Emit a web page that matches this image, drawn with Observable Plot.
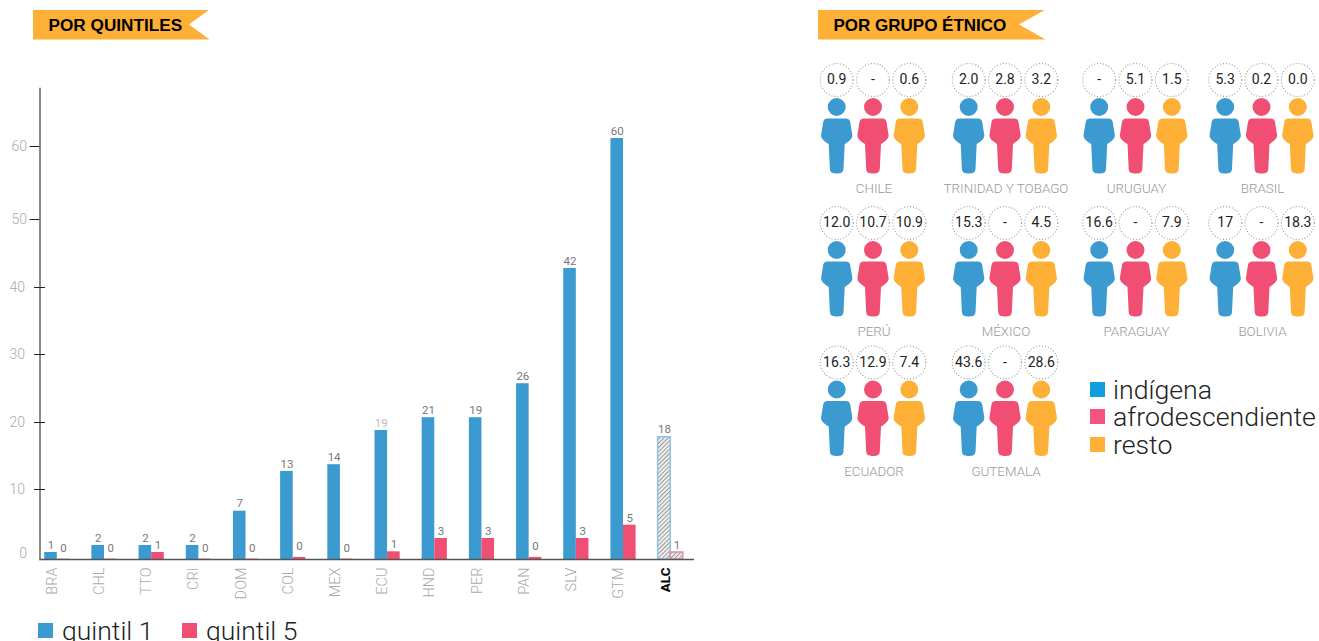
<!DOCTYPE html>
<html><head><meta charset="utf-8">
<script src="https://cdn.jsdelivr.net/npm/d3@7"></script>
<script src="https://cdn.jsdelivr.net/npm/@observablehq/plot@0.6"></script>
<style>
html,body{margin:0;padding:0;background:#fff;overflow:hidden;width:1319px;height:641px;font-family:Roboto,sans-serif}
#bars,#people{position:absolute;top:0}
#bars{left:0}
#people{left:800px}
.ribbon{position:absolute;top:9.5px;height:30px;background:#fdb035;font:bold 17.2px/31px "Liberation Sans",Arial,sans-serif;color:#000;box-sizing:border-box;padding-left:15.5px;white-space:nowrap}
.lg{position:absolute;font-family:Roboto;font-weight:300;color:#222;white-space:nowrap}
</style></head><body>
<div id="bars"></div>
<div id="people"></div>
<div class="ribbon" id="r1" style="left:33px;width:176.5px;clip-path:polygon(0 0,100% 0,156px 50%,100% 100%,0 100%)">POR QUINTILES</div>
<div class="ribbon" id="r2" style="left:818px;width:227.5px;font-size:17px;clip-path:polygon(0 0,100% 0,201px 50%,100% 100%,0 100%)">POR GRUPO ÉTNICO</div>
<div id="lg1"></div><div id="lg2"></div>
<script>
const BLUE = "#3b9ad0", RED = "#f04e73", ORANGE = "#fdb035";

const codes = ["BRA","CHL","TTO","CRI","DOM","COL","MEX","ECU","HND","PER","PAN","SLV","GTM","ALC"];
const quintil1 = [1,2,2,2,6.9,12.7,13.7,18.8,20.7,20.7,25.7,42.8,61.1,17.8];
const quintil5 = [0.05,0.05,1,0.05,0.05,0.3,0.05,1.1,3,3,0.3,3,4.9,1];
const labels1 = ["1","2","2","2","7","13","14","19","21","19","26","42","60","18"];
const labels5 = ["0","0","1","0","0","0","0","1","3","3","0","3","5","1"];

const countries = ["CHILE","TRINIDAD Y TOBAGO","URUGUAY","BRASIL","PERÚ","MÉXICO","PARAGUAY","BOLIVIA","ECUADOR","GUTEMALA"];
const indigena = ["0.9","2.0","-","5.3","12.0","15.3","16.6","17","16.3","43.6"];
const afro = ["-","2.8","5.1","0.2","10.7","-","-","-","12.9","-"];
const resto = ["0.6","3.2","1.5","0.0","10.9","4.5","7.9","18.3","7.4","28.6"];

const rows = codes.map((c,i)=>({c,q1:quintil1[i],q5:quintil5[i],l1:labels1[i],l5:labels5[i]}));
const main = rows.filter(d=>d.c!=="ALC"), alc = rows.filter(d=>d.c==="ALC");
const barW = {insetLeft:17.3,insetRight:17.3};
const lab = {fontFamily:"Roboto",fontSize:11.5,fill:"#777",lineAnchor:"middle"};
const tickText = {fill:"#aaa",fontSize:14,fontWeight:300,label:null};

const defs = () => {
  const s = d3.create("svg:defs");
  const p = s.append("pattern").attr("id","hatch").attr("width",3).attr("height",3)
    .attr("patternUnits","userSpaceOnUse").attr("patternTransform","rotate(-45)");
  p.append("rect").attr("width",3).attr("height",3).attr("fill","#f4f4f4");
  p.append("rect").attr("width",3).attr("height",1.1).attr("fill","#9a9a9a");
  return s.node();
};

const barPlot = Plot.plot({
  width:720,height:641,marginLeft:39.5,marginRight:26,marginTop:88,marginBottom:82,
  style:{background:"transparent",fontFamily:"Roboto"},
  x:{type:"band",domain:codes,range:[33.2,693.8],padding:0,round:false,axis:null},
  y:{type:"linear",domain:[0,10,20,30,40,50,60,68],range:[559,489,422,354,287,219,146,88],axis:null},
  marks:[
    defs,
    Plot.barY(main,{x:"c",y:"q1",...barW,dx:-6.3,fill:BLUE}),
    Plot.barY(main,{x:"c",y:"q5",...barW,dx:6.3,fill:RED}),
    Plot.barY(alc,{x:"c",y:"q1",...barW,dx:-6.3,fill:"url(#hatch)",stroke:"#8fc4e3",strokeWidth:1.5}),
    Plot.barY(alc,{x:"c",y:"q5",...barW,dx:6.3,fill:"url(#hatch)",stroke:"#e58aa3",strokeWidth:1.5}),
    Plot.ruleY([0],{stroke:"#555",strokeWidth:1.5}),
    Plot.frame({anchor:"left",stroke:"#666",strokeWidth:1.5}),
    Plot.axisY({ticks:[50,60],tickSize:10,tickPadding:3,stroke:"#222",...tickText}),
    Plot.axisY({ticks:[10,20,30,40],tickSize:11,dx:5.5,tickPadding:9.5,stroke:"#222",...tickText}),
    Plot.axisY({ticks:[0],tickSize:0,tickPadding:13,dy:-6,...tickText}),
    Plot.axisX({ticks:codes.slice(0,-1),tickSize:0,tickPadding:8,tickRotate:-90,dx:-5,...tickText,fontSize:14.5}),
    Plot.axisX({ticks:["ALC"],tickSize:0,tickPadding:8,tickRotate:-90,dx:-5,fill:"#000",fontSize:13.5,fontWeight:700,label:null}),
    Plot.text(rows.filter(d=>d.c!=="ECU"),{x:"c",y:"q1",text:"l1",dx:-6.3,dy:-7.5,...lab}),
    Plot.text(rows.filter(d=>d.c==="ECU"),{x:"c",y:"q1",text:"l1",dx:-6.3,dy:-7.5,...lab,fill:"#bbb"}),
    Plot.text(rows.filter(d=>d.l5!=="0"),{x:"c",y:"q5",text:"l5",dx:6.3,dy:-7,...lab}),
    Plot.text(rows.filter(d=>d.l5==="0"),{x:"c",y:"q5",text:"l5",dx:6.3,dy:-11,...lab})
  ]
});
document.getElementById("bars").append(barPlot);

// person silhouette, origin at the centre of the head
const person = {draw(c){
  c.moveTo(9,0); c.arc(0,0,9,0,Math.PI*2); c.closePath();
  c.moveTo(-9,11.5);
  c.lineTo(9,11.5);
  c.bezierCurveTo(12,11.5,13,13,13.5,15);
  c.lineTo(15.6,28);
  c.bezierCurveTo(16,31,13,34,8,37);
  c.lineTo(6.8,62);
  c.bezierCurveTo(6.5,66,3.5,66.5,0,66.5);
  c.bezierCurveTo(-3.5,66.5,-6.5,66,-6.8,62);
  c.lineTo(-8,37);
  c.bezierCurveTo(-13,34,-16,31,-15.6,28);
  c.lineTo(-13.5,15);
  c.bezierCurveTo(-13,13,-12,11.5,-9,11.5);
  c.closePath();
}};

const people = countries.map((name,i)=>({name,col:i%4,row:Math.floor(i/4),a:indigena[i],b:afro[i],c:resto[i]}));
const groups = [["a",BLUE,-36.3],["b",RED,0],["c",ORANGE,36.3]];
const peoplePlot = Plot.plot({
  width:519,height:641,margin:0,
  style:{background:"transparent",fontFamily:"Roboto"},
  x:{type:"linear",domain:[0,1,2,3],range:[72.5,204.5,335,461],axis:null},
  y:{type:"linear",domain:[0,1,2],range:[106.5,249.5,389],axis:null},
  marks:[
    ...groups.flatMap(([k,color,dx])=>[
      Plot.dot(people,{x:"col",y:"row",dx,symbol:person,fill:color,stroke:null}),
      Plot.dot(people,{x:"col",y:"row",dx,dy:-27,r:16.5,fill:"white",stroke:"#999",strokeWidth:1.1,strokeDasharray:"1 2"}),
      Plot.text(people,{x:"col",y:"row",dx,dy:-27,text:k,fontFamily:"Roboto",fontSize:14,fill:"#222",lineAnchor:"middle"})
    ]),
    Plot.text(people,{x:"col",y:"row",dx:1,dy:82,text:"name",fontFamily:"Roboto",fontWeight:300,fontSize:13.4,fill:"#999",lineAnchor:"middle"})
  ]
});
document.getElementById("people").append(peoplePlot);

function legend(host,items){
  for(const [txt,color,x,y,tx,size] of items){
    const d=document.createElement("div");d.className="lg";
    d.style.cssText=`left:${tx}px;top:${y-5}px;font-size:${size}px;line-height:26px`;
    d.textContent=txt;host.append(d);
    const s=document.createElement("div");s.style.cssText=`position:absolute;left:${x}px;top:${y}px;width:15px;height:15px;background:${color}`;host.append(s);
  }
}
legend(document.getElementById("lg1"),[["quintil 1",BLUE,37.5,623,62,26.5],["quintil 5",RED,181.5,623,206,26.5]]);
legend(document.getElementById("lg2"),[["indígena","#0f9fdc",1090,382,1113,26.7],["afrodescendiente","#f5527f",1090,409,1113,26.7],["resto",ORANGE,1090,437,1113,26.7]]);
</script>
</body></html>
